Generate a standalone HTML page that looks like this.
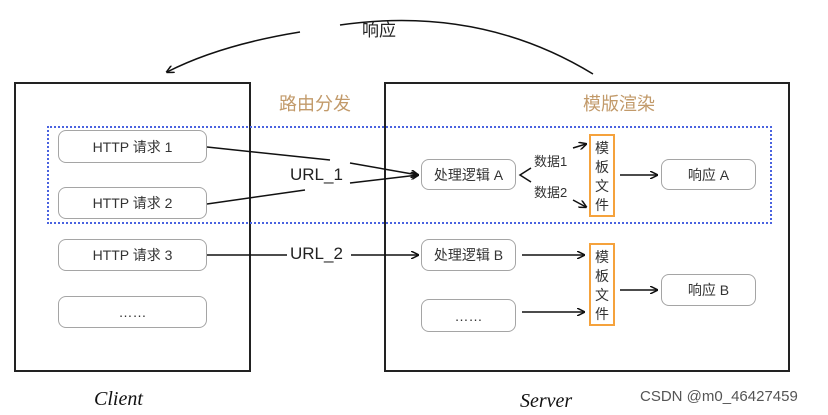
<!DOCTYPE html>
<html><head><meta charset="utf-8"><style>
body{margin:0;background:#fff;width:828px;height:415px;overflow:hidden;font-family:"Liberation Sans","Noto Sans CJK SC",sans-serif}
.b{position:absolute;border:1.6px solid #a5a5a5;border-radius:8px;background:#fff;display:flex;align-items:center;justify-content:center;font-size:14px;color:#333;box-sizing:border-box}
.t{position:absolute;white-space:nowrap}
.o{position:absolute;border:2px solid #f5a23c;box-sizing:border-box;font-size:14px;color:#333;text-align:center;line-height:19px;padding-top:3px}
</style></head><body>
<div style="position:absolute;left:14px;top:82px;width:237px;height:290px;border:2px solid #222;box-sizing:border-box"></div>
<div style="position:absolute;left:384px;top:82px;width:406px;height:290px;border:2px solid #222;box-sizing:border-box"></div>
<div style="position:absolute;left:47px;top:126px;width:725px;height:98px;border:2px dotted #4a63e0;box-sizing:border-box"></div>
<svg width="828" height="415" style="position:absolute;left:0;top:0">
<defs><marker id="a" markerWidth="8" markerHeight="8" refX="7" refY="4" orient="auto" markerUnits="userSpaceOnUse"><path d="M0,0 L8,4 L0,8" fill="none" stroke="#111" stroke-width="1.5"/></marker></defs>
<g stroke="#111" stroke-width="1.5" fill="none">
<path d="M593,74 Q480,5 340,25" /><path d="M300,32 Q220,45 167,72" marker-end="url(#a)"/>
<path d="M207,147 L330,160"/><path d="M350,163 L418,175" marker-end="url(#a)"/>
<path d="M207,204 L305,190"/><path d="M350,183 L418,175" marker-end="url(#a)"/>
<path d="M207,255 L287,255"/><path d="M351,255 L418,255" marker-end="url(#a)"/>
<path d="M531,168 L520,175 L531,182"/>
<path d="M573,148 L586,144" marker-end="url(#a)"/>
<path d="M573,200 L586,207" marker-end="url(#a)"/>
<path d="M620,175 L657,175" marker-end="url(#a)"/>
<path d="M522,255 L584,255" marker-end="url(#a)"/>
<path d="M522,312 L584,312" marker-end="url(#a)"/>
<path d="M620,290 L657,290" marker-end="url(#a)"/>
</g></svg>
<div class="t" style="left:362px;top:16px;font-size:17px;color:#222">响应</div>
<div class="t" style="left:279px;top:90px;font-size:18px;color:#c29a6a">路由分发</div>
<div class="t" style="left:583px;top:90px;font-size:18px;color:#c29a6a">模版渲染</div>
<div class="t" style="left:290px;top:165px;font-size:17px;color:#222">URL_1</div>
<div class="t" style="left:290px;top:244px;font-size:17px;color:#222">URL_2</div>
<div class="b" style="left:58px;top:130px;width:149px;height:33px">HTTP 请求 1</div>
<div class="b" style="left:58px;top:187px;width:149px;height:32px">HTTP 请求 2</div>
<div class="b" style="left:58px;top:239px;width:149px;height:32px">HTTP 请求 3</div>
<div class="b" style="left:58px;top:296px;width:149px;height:32px">……</div>
<div class="b" style="left:421px;top:159px;width:95px;height:31px">处理逻辑 A</div>
<div class="b" style="left:421px;top:239px;width:95px;height:32px">处理逻辑 B</div>
<div class="b" style="left:421px;top:299px;width:95px;height:33px">……</div>
<div class="b" style="left:661px;top:159px;width:95px;height:31px">响应 A</div>
<div class="b" style="left:661px;top:274px;width:95px;height:32px">响应 B</div>
<div class="t" style="left:534px;top:151px;font-size:13px;color:#333">数据1</div>
<div class="t" style="left:534px;top:182px;font-size:13px;color:#333">数据2</div>
<div class="o" style="left:589px;top:134px;width:26px;height:83px">模<br>板<br>文<br>件</div>
<div class="o" style="left:589px;top:243px;width:26px;height:83px">模<br>板<br>文<br>件</div>
<div class="t" style="left:94px;top:388px;font-size:20px;font-style:italic;font-family:'Liberation Serif',serif;color:#111">Client</div>
<div class="t" style="left:520px;top:390px;font-size:20px;font-style:italic;font-family:'Liberation Serif',serif;color:#111">Server</div>
<div class="t" style="left:640px;top:388px;font-size:15px;color:#555">CSDN @m0_46427459</div>
</body></html>
